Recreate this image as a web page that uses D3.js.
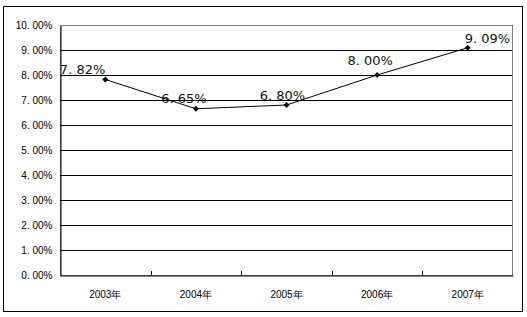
<!DOCTYPE html>
<html><head><meta charset="utf-8">
<script src="https://cdn.jsdelivr.net/npm/d3@7"></script>
<style>body{margin:0;background:#fff}svg{display:block}</style>
</head><body>
<svg id="c" width="527" height="317"></svg>
<script>
const categories = ["2003年","2004年","2005年","2006年","2007年"];
const values = [7.82, 6.65, 6.80, 8.00, 9.09];
const yTicks = [0,1,2,3,4,5,6,7,8,9,10];
// label anchor offsets (style only)
const labelAnchor = ["end","middle","middle","middle","start"];
const labelDx = [0, -12, -4, -7, -3];
const labelDy = [-6, -6, -5, -10, -5];

const svg = d3.select("#c");
const fmt = v => d3.format(".2f")(v).replace(".", ". ") + "%";

svg.append("rect").attr("x",3.5).attr("y",6.5).attr("width",519).attr("height",305)
  .attr("fill","#fff").attr("stroke","#000").attr("stroke-width",1);

const m = {l:60, r:513, t:25, b:275};
const x = d3.scaleBand().domain(categories).range([m.l, m.r]);
const y = d3.scaleLinear().domain([0,10]).range([m.b, m.t]);

svg.append("rect").attr("x",m.l+0.5).attr("y",m.t+0.5).attr("width",m.r-m.l-1).attr("height",m.b-m.t)
  .attr("fill","none").attr("stroke","#808080");

svg.append("g").selectAll("line").data(yTicks.filter(t=>t>0 && t<10)).join("line")
  .attr("x1",m.l).attr("x2",m.r-1)
  .attr("y1",d=>Math.round(y(d))+0.5).attr("y2",d=>Math.round(y(d))+0.5)
  .attr("stroke","#000");

const ya = svg.append("g").attr("transform",`translate(${m.l+0.5},0.5)`)
  .call(d3.axisLeft(y).tickValues(yTicks).tickSize(0).tickPadding(8)
    .tickFormat(d => fmt(d)));
ya.select(".domain").attr("stroke","#000");
ya.selectAll("text").attr("font-family","Liberation Sans, Arial, sans-serif").attr("font-size",10).attr("fill","#000");

const xa = svg.append("g").attr("transform",`translate(0,${m.b+0.5})`)
  .call(d3.axisBottom(x).tickSize(0).tickPadding(15));
xa.select(".domain").attr("stroke","#000");
xa.selectAll("text").attr("font-family","Liberation Sans, Arial, sans-serif").attr("font-size",10).attr("fill","#000");
svg.append("g").selectAll("line").data(categories.slice(1)).join("line")
  .attr("x1",d=>Math.round(x(d))+0.5).attr("x2",d=>Math.round(x(d))+0.5)
  .attr("y1",m.b).attr("y2",m.b-4).attr("stroke","#000");

const px = d => x(d) + x.bandwidth()/2;
const line = d3.line().x((d,i)=>px(categories[i])).y(d=>y(d));
svg.append("path").datum(values).attr("d",line).attr("fill","none").attr("stroke","#000").attr("stroke-width",1);

svg.append("g").selectAll("path").data(values).join("path")
  .attr("transform",(d,i)=>`translate(${px(categories[i])},${y(d)}) rotate(45)`)
  .attr("d",d3.symbol().type(d3.symbolSquare).size(18))
  .attr("fill","#000");

svg.append("g").selectAll("text").data(values).join("text")
  .attr("x",(d,i)=>px(categories[i])+labelDx[i])
  .attr("y",(d,i)=>y(d)+labelDy[i])
  .attr("text-anchor",(d,i)=>labelAnchor[i])
  .attr("font-family","DejaVu Sans, sans-serif").attr("font-size",13).attr("fill","#111")
  .text(d=>fmt(d));
</script>
</body></html>
